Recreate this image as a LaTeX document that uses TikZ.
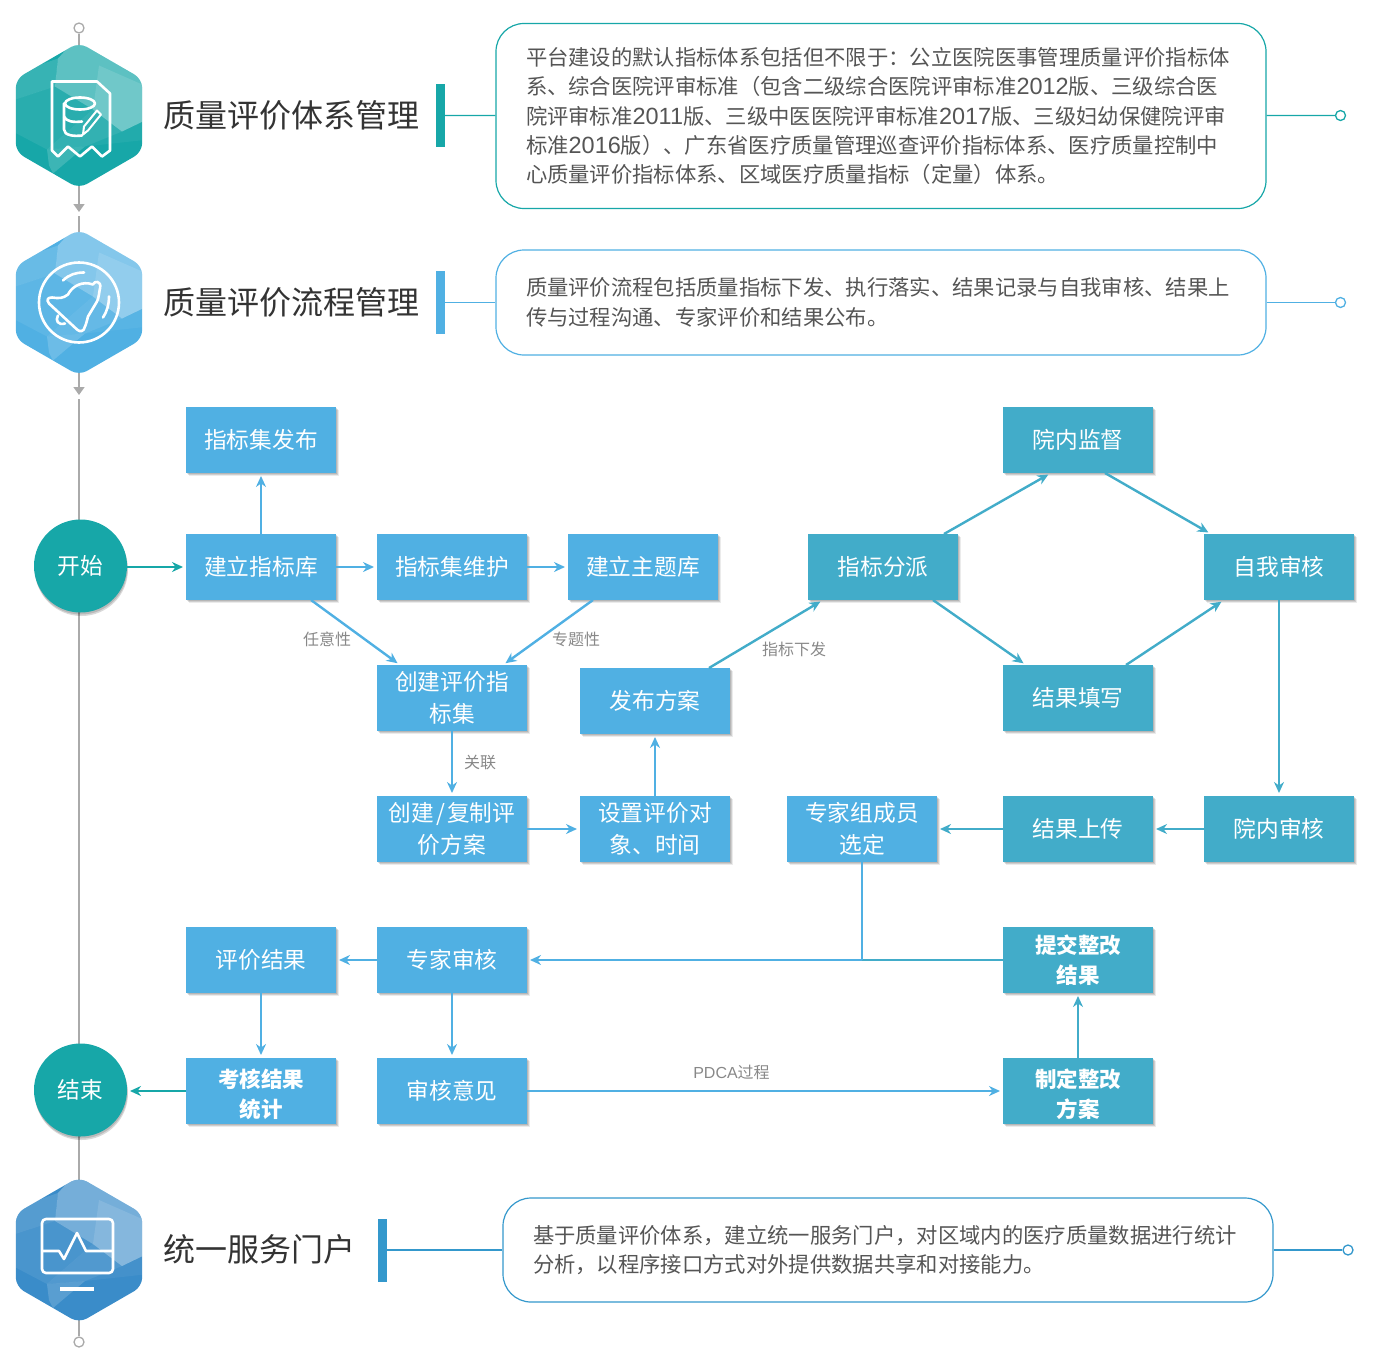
\documentclass[tikz,border=0pt]{standalone}
\usepackage{fontspec}
\setmainfont{Noto Sans CJK SC}
\newfontfamily\numfont[Scale=1.1]{Liberation Sans}
\newfontfamily\tagfont{Liberation Sans}
\usetikzlibrary{arrows.meta, positioning, shapes.geometric, backgrounds, shadows}
\definecolor{flowteal}{RGB}{23, 167, 168}
\definecolor{flowblue}{RGB}{80, 176, 227}
\definecolor{flowcyan}{RGB}{66, 172, 201}
\definecolor{flowdeep}{RGB}{58, 140, 201}
\definecolor{flowbar}{RGB}{52, 152, 204}
\definecolor{flowgrey}{RGB}{170, 170, 170}
\definecolor{flowink}{RGB}{51, 51, 51}
\definecolor{flowtext}{RGB}{85, 85, 85}
\definecolor{flowtag}{RGB}{136, 136, 136}
\newcommand{\hexfacets}{%
  \begin{scope}[shift={(path picture bounding box.center)}, sharp corners]
    \fill[white, opacity=.30] (-21,-57) -- (-24,-29) -- (14,-6) -- (43,16) -- (70,3) -- (70,-40) -- (0,-80) -- cycle;
    \fill[white, opacity=.12] (20,-50) -- (70,-28) -- (70,3) -- (43,16) -- (14,-6) -- cycle;
    \fill[white, opacity=.14] (-70,-40) -- (-21,-57) -- (-24,-29) -- (-70,-14) -- cycle;
    \fill[white, opacity=.08] (-70,-14) -- (-24,-29) -- (14,-6) -- (-32,34) -- (-70,14) -- cycle;
    \fill[white, opacity=.12] (14,-6) -- (43,16) -- (6,31) -- (-32,34) -- cycle;
    \fill[white, opacity=.05] (43,16) -- (70,3) -- (70,24) -- (6,31) -- cycle;
    \fill[white, opacity=.16] (-32,34) -- (6,31) -- (-26,58) -- (-30,50) -- cycle;
  \end{scope}}
\newcommand{\lowline}{\rule{0pt}{25pt}}
\begin{document}
\begin{tikzpicture}[
        x=1pt, y=-1pt,
        softshade/.style={drop shadow={shadow xshift=#1*0.5pt, shadow yshift=-#1*0.5pt, fill=black, opacity=.12},
            drop shadow={shadow xshift=#1*1pt, shadow yshift=-#1*1pt, fill=black, opacity=.12},
            drop shadow={shadow xshift=#1*1.6pt, shadow yshift=-#1*1.6pt, fill=black, opacity=.08}},
        cellblue/.style={rectangle, fill=flowblue, text=white, minimum width=150pt, minimum height=66pt, inner sep=0pt, outer sep=0pt, align=center,
            font=\fontsize{22.7}{32}\selectfont, softshade=2},
        cellcyan/.style={cellblue, fill=flowcyan},
        cellbold/.style={font=\fontsize{21.5}{29.5}\selectfont\bfseries},
        endnode/.style={circle, fill=flowteal, text=white, minimum size=93pt, inner sep=0pt, outer sep=0pt, font=\fontsize{22.7}{30}\selectfont,
            drop shadow={shadow xshift=0.5pt, shadow yshift=-2pt, fill=black, opacity=.15},
            drop shadow={shadow xshift=1pt, shadow yshift=-3.5pt, fill=black, opacity=.15}},
        hexnode/.style={regular polygon, regular polygon sides=6, shape border rotate=30, minimum size=146pt, inner sep=0pt, outer sep=0pt,
            rounded corners=9pt, fill=#1, path picture={\hexfacets}},
        title/.style={anchor=west, inner sep=0pt, text=flowink, font=\fontsize{32}{36}\selectfont},
        barnode/.style={rectangle, fill=#1, minimum width=9pt, minimum height=63pt, inner sep=0pt, outer sep=0pt},
        infobox/.style={rectangle, rounded corners=28pt, draw=#1, line width=1.2pt, fill=white, minimum width=770pt, text=flowtext,
            inner sep=0pt, text width=710pt, align=left, font=\fontsize{21.33}{29.3}\selectfont},
        ring/.style={circle, draw=#1, line width=1.3pt, fill=white, minimum size=10pt, inner sep=0pt},
        tag/.style={text=flowtag, inner sep=0pt, font=\fontsize{16}{18}\selectfont},
        arrb/.style={-{Stealth[length=11pt, width=10pt]}, line width=2.4pt, draw=flowblue, shorten >=3pt},
        arrc/.style={arrb, draw=flowcyan},
        arrt/.style={arrb, draw=flowteal},
        timeline/.style={draw=flowgrey, line width=1.6pt},
        icon/.style={draw=white, line width=2.6pt, line join=round, line cap=round}
    ]
        \useasboundingbox (0,0) rectangle (1378,1362);

        % Three stages
        \node[hexnode=flowteal] (hexa) at (79,115.5) {};
        \node[hexnode=flowblue] (hexb) at (79,302.5) {};
        \node[hexnode=flowdeep] (hexc) at (79,1250) {};
        \node[title] (titlea) at (163,115) {质量评价体系管理};
        \node[title] (titleb) at (163,302) {质量评价流程管理};
        \node[title] (titlec) at (163,1249) {统一服务门户};
        \node[barnode=flowteal] (bara) at (440.5,115.5) {};
        \node[barnode=flowblue] (barb) at (440.5,302.5) {};
        \node[barnode=flowbar] (barc) at (382.5,1250) {};

        % Text panels
        \node[infobox=flowteal, minimum height=185pt] (infoa) at (881,116) {平台建设的默认指标体系包括但不限于：公立医院医事管理质量评价指标体\\系、综合医院评审标准（包含二级综合医院评审标准{\numfont 2012}版、三级综合医\\院评审标准{\numfont 2011}版、三级中医医院评审标准{\numfont 2017}版、三级妇幼保健院评审\\标准{\numfont 2016}版）、广东省医疗质量管理巡查评价指标体系、医疗质量控制中\\心质量评价指标体系、区域医疗质量指标（定量）体系。};
        \node[infobox=flowblue, minimum height=105pt] (infob) at (881,302.5) {质量评价流程包括质量指标下发、执行落实、结果记录与自我审核、结果上\\传与过程沟通、专家评价和结果公布。};
        \node[infobox=flowbar, minimum height=104pt] (infoc) at (888,1250) {基于质量评价体系，建立统一服务门户，对区域内的医疗质量数据进行统计\\分析，以程序接口方式对外提供数据共享和对接能力。};
        \node[ring=flowteal] (enda) at (1340.5,115.5) {};
        \node[ring=flowblue] (endb) at (1340.5,302.5) {};
        \node[ring=flowbar] (endc) at (1348,1250) {};
        \draw[flowteal, line width=1.2pt] (bara) -- (infoa) (infoa) -- (enda);
        \draw[flowblue, line width=1.2pt] (barb) -- (infob) (infob) -- (endb);
        \draw[flowbar, line width=1.2pt] (barc) -- (infoc) (infoc) -- (endc);

        % Flow, left part
        \node[cellblue] (pub) at (261,440) {指标集发布};
        \node[cellblue, below=61pt of pub] (lib) {建立指标库};
        \node[cellblue, right=41pt of lib] (maint) {指标集维护};
        \node[cellblue, right=41pt of maint] (theme) {建立主题库};
        \node[cellblue, below=65pt of maint] (create) {创建评价指\\标集};
        \node[cellblue, below=65pt of create] (copy) {创建{\kern2pt/\kern2pt}复制评\\价方案};
        \node[cellblue, right=53pt of copy] (setobj) {设置评价对\\象、时间};
        \node[cellblue, above=62pt of setobj] (issue) {发布方案};
        \node[endnode, left=59pt of lib, yshift=1pt] (begin) {开始};

        % Flow, right part
        \node[cellcyan] (assign) at (883,567) {指标分派};
        \node[cellcyan] (monitor) at (1078,440) {院内监督};
        \node[cellcyan, below=192pt of monitor] (fill) {结果填写};
        \node[cellcyan] (self) at (1279,567) {自我审核};
        \node[cellcyan, below=196pt of self] (hosp) {院内审核};
        \node[cellcyan, left=51pt of hosp] (upload) {结果上传};
        \node[cellblue, left=66pt of upload] (select) {专家组成员\\选定};

        % Flow, bottom part
        \node[cellblue, below=65pt of copy] (expert) {专家审核};
        \node[cellblue, left=41pt of expert] (result) {评价结果};
        \node[cellblue, cellbold, below=65pt of result] (stat) {\lowline 考核结果\\统计};
        \node[cellblue, below=65pt of expert] (opinion) {审核意见};
        \node[cellcyan, cellbold, below=65pt of upload] (submit) {提交整改\\结果};
        \node[cellcyan, cellbold, below=65pt of submit] (plan) {\lowline 制定整改\\方案};
        \node[endnode, left=59pt of stat, yshift=1pt] (finish) {结束};
        \coordinate (junc) at (select.south |- expert);

        % Links
        \draw[arrt] (begin.east |- lib) -- (lib);
        \draw[arrb] (lib) -- (pub);
        \draw[arrb] (lib) -- (maint);
        \draw[arrb] (maint) -- (theme);
        \draw[arrb] ([xshift=50pt]lib.south) -- ([xshift=-52pt]create.north);
        \draw[arrb] ([xshift=-50pt]theme.south) -- ([xshift=51pt]create.north);
        \draw[arrb] (create) -- (copy);
        \draw[arrb] (copy) -- (setobj);
        \draw[arrb] (setobj) -- (issue);
        \draw[arrc] ([xshift=54pt]issue.north) -- ([xshift=-60pt]assign.south);
        \draw[arrc] ([xshift=61pt]assign.north) -- ([xshift=-27pt]monitor.south);
        \draw[arrc] ([xshift=27pt]monitor.south) -- ([xshift=-68pt]self.north);
        \draw[arrc] ([xshift=50pt]assign.south) -- ([xshift=-52pt]fill.north);
        \draw[arrc] ([xshift=48pt]fill.north) -- ([xshift=-55pt]self.south);
        \draw[arrc] (self) -- (hosp);
        \draw[arrc] (hosp) -- (upload);
        \draw[arrc] (upload) -- (select);
        \draw[flowcyan, line width=2.4pt] (submit) -- (junc);
        \draw[flowblue, line width=2.4pt] (select) -- (junc);
        \draw[arrb] (junc) -- (expert);
        \draw[arrb] (expert) -- (result);
        \draw[arrb] (result) -- (stat);
        \draw[arrt] (stat) -- (finish.east |- stat);
        \draw[arrb] (expert) -- (opinion);
        \draw[arrb] (opinion) -- (plan);
        \draw[arrc] (plan) -- (submit);

        % Link labels
        \node[tag] (tagfree) at (327,639) {任意性};
        \node[tag] (tagtheme) at (576,639) {专题性};
        \node[tag] (taglink) at (480,763) {关联};
        \node[tag] (tagsend) at (794,649) {指标下发};
        \node[tag] (tagpdca) at (731.5,1072) {{\tagfont PDCA}过程};

        % Grey line behind everything
        \node[ring=flowgrey] (top) at (79,28) {};
        \node[ring=flowgrey] (bottom) at (79,1342) {};
        \coordinate (tipa) at (79,212);
        \coordinate (resta) at (79,216);
        \coordinate (tipb) at (79,395);
        \coordinate (restb) at (79,399);
        \begin{scope}[on background layer]
            \draw[timeline] (top) -- (hexa.center);
            \draw[timeline, -{Triangle[length=8pt, width=11pt]}] (hexa.center) -- (tipa);
            \draw[timeline] (resta) -- (hexb.center);
            \draw[timeline, -{Triangle[length=8pt, width=11pt]}] (hexb.center) -- (tipb);
            \draw[timeline] (restb) -- (hexc.center);
            \draw[timeline] (hexc.center) -- (bottom);
        \end{scope}

        % Icon of the first stage
        \begin{scope}[shift={(hexa.center)}]
            \draw[icon] (-27,-34) -- (18,-34) -- (31,-22) -- (31,35) -- (23,41) -- (13,31) -- (1,41) -- (-11,31) -- (-21,41) -- (-27,35) -- cycle;
            \draw[icon] (1,-12) ellipse [x radius=15, y radius=6];
            \draw[icon] (-15,-12) -- (-15,14) .. controls (-15,20) and (-5,21) .. (3,20);
            \draw[icon] (-15,1) .. controls (-13,6) and (-6,7) .. (3,6);
            \draw[icon, line width=2pt] (4,19) -- (5,11) -- (18,-5) -- (22,-1) -- (9,15) -- cycle;
        \end{scope}

        % Icon of the second stage
        \begin{scope}[shift={(hexb.center)}]
            \draw[icon] (0,0) circle [radius=40];
            \draw[icon] (14,-18) .. controls (15,-22) and (23,-22) .. (21,-14) .. controls (20,-10) and (20,-5) .. (18,-1) -- (9,14)
                .. controls (8,18) and (7,22) .. (6,24) .. controls (5,29) and (1,30) .. (-2,27) -- (-30,1)
                .. controls (-33,-3) and (-31,-5) .. (-27,-5) .. controls (-20,-4) and (-16,-4) .. (-11,-8)
                .. controls (-7,-16) and (3,-22) .. (14,-18) -- cycle;
            \draw[icon] (-21,13) .. controls (-24,18) and (-21,23) .. (-14,21);
            \draw[icon] (-16,-22) .. controls (-10,-28) and (-3,-30) .. (5,-30);
            \draw[icon] (30,-6) .. controls (30,2) and (28,9) .. (24,15);
        \end{scope}

        % Icon of the third stage
        \begin{scope}[shift={(hexc.center)}]
            \draw[icon, rounded corners=4pt] (-37,-31) rectangle (34,23);
            \draw[icon] (-36,1) -- (-20,1) -- (-15,9) -- (-2,-17) -- (7,1) -- (33,1);
            \fill[white] (-19,37) rectangle (15,41);
        \end{scope}
    \end{tikzpicture}
\end{document}
